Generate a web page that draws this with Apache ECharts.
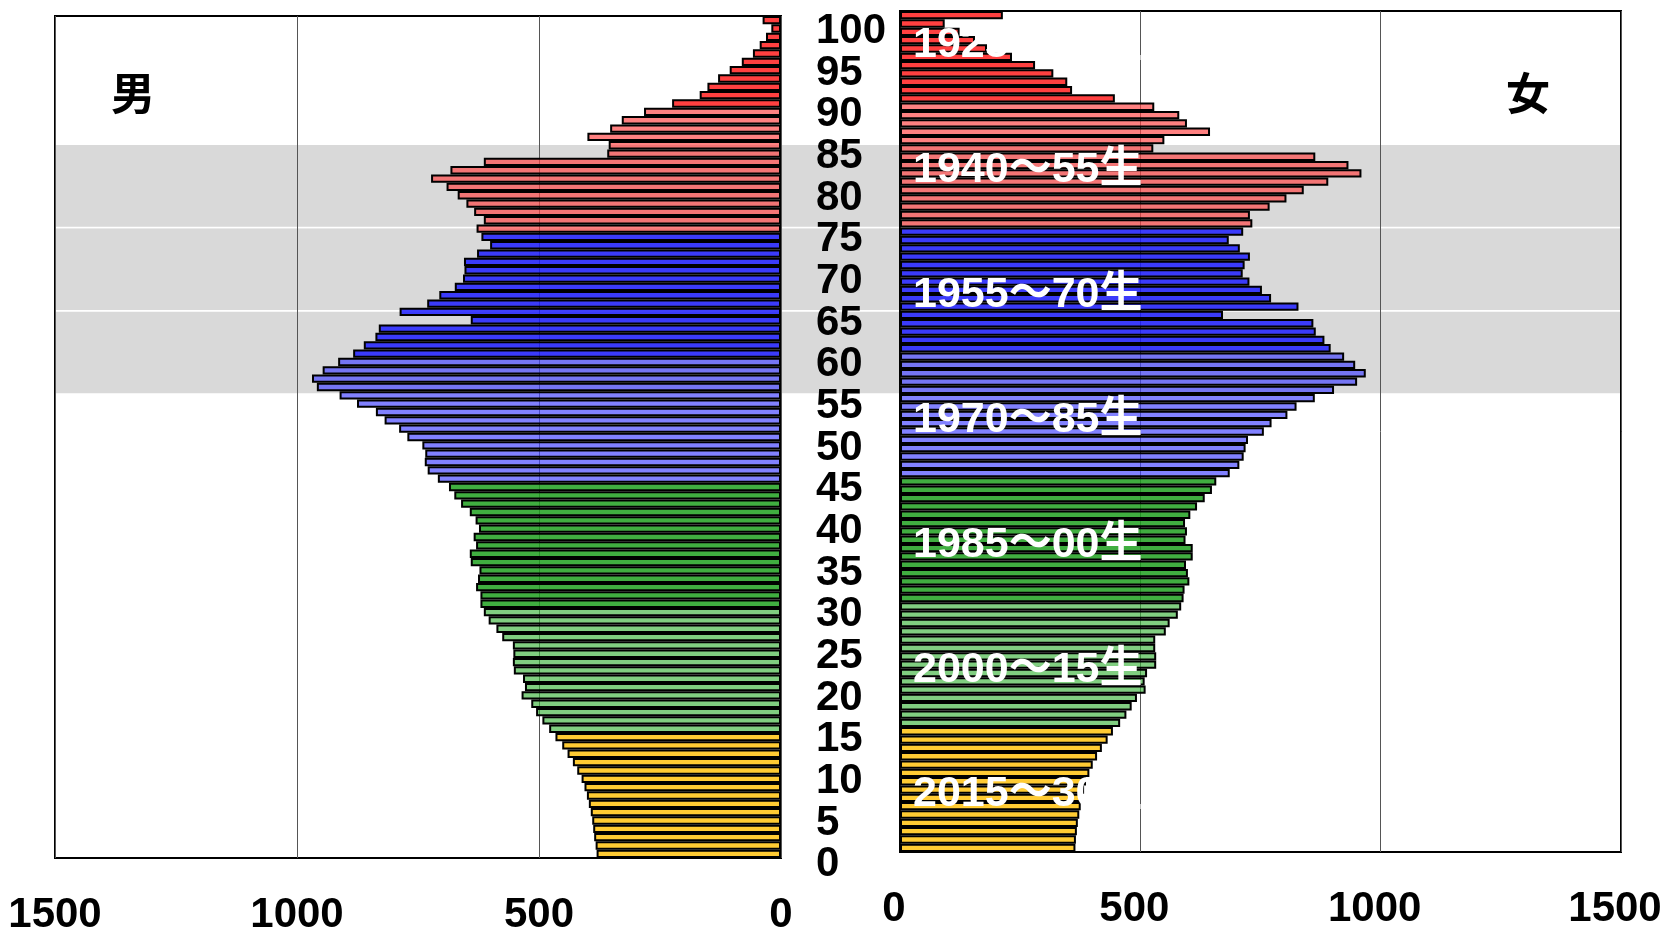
<!DOCTYPE html>
<html>
<head>
<meta charset="utf-8">
<script src="https://cdn.jsdelivr.net/npm/echarts@6/dist/echarts.min.js"></script>
<style>
html,body{margin:0;padding:0;background:#fff;}
#chart{width:1664px;height:932px;}
</style>
</head>
<body>
<div id="chart"></div>
<script>
// ---- data ----
const ages = Array.from({length: 101}, (_, i) => String(i));   // 0 .. 100(+)
const ageTickLabels = ['0','5','10','15','20','25','30','35','40','45','50','55','60','65','70','75','80','85','90','95','100'];
const maleValues = [
  381,383,386,388,390,393,397,401,406,412,
  421,430,441,452,466,479,493,506,516,536,
  529,533,552,554,553,554,576,588,604,614,
  621,621,630,626,623,641,643,630,635,624,
  631,643,661,675,686,709,730,736,735,741,
  772,789,819,837,876,912,959,969,947,915,
  884,862,838,831,641,788,731,706,674,657,
  654,655,628,601,619,629,614,634,650,668,
  691,723,683,614,359,356,400,353,329,283,
  225,168,152,130,106,81,58,44,31,20,
  38
];
const femaleValues = [
  365,366,368,370,373,376,378,383,387,394,
  401,410,420,432,443,458,471,482,493,511,
  509,514,533,533,531,531,553,561,578,585,
  590,592,602,599,595,609,609,594,597,593,
  604,618,634,649,658,686,706,715,719,724,
  757,773,806,825,863,903,951,969,947,924,
  896,883,865,860,672,829,772,753,727,713,
  717,728,707,684,714,733,728,769,804,840,
  891,960,933,864,527,550,645,597,581,529,
  447,358,348,319,281,233,181,156,124,93,
  214
];
const genLabels   = ['2015～30生','2000～15生','1985～00生','1970～85生','1955～70生','1940～55生','1925～40生'];
const genFirstAge = [0, 15, 30, 45, 60, 75, 90];
const genColors   = ['rgba(255,190,0,0.8)','rgba(60,180,60,0.65)','rgba(30,160,30,0.85)',
                     'rgba(70,70,255,0.68)','rgba(30,30,255,0.85)','rgba(255,70,70,0.68)','rgba(255,30,30,0.85)'];
const bandRanges  = [[55, 64], [65, 74], [75, 84]];
const xTicks      = [0, 500, 1000, 1500];

// ---- helpers ----
function genOf(age) {
  let g = 0;
  for (let i = 0; i < genFirstAge.length; i++) if (age >= genFirstAge[i]) g = i;
  return g;
}
function barData(vals) {
  return vals.map((v, i) => ({ value: v, itemStyle: { color: genColors[genOf(i)] } }));
}

const numFont = "'Liberation Sans',Arial,sans-serif";
const labFont = "'Liberation Sans','Noto Sans CJK JP',sans-serif";
const plain = v => String(v);

const chart = echarts.init(document.getElementById('chart'), null, {renderer: 'canvas'});

const option = {
  animation: false,
  backgroundColor: '#fff',
  grid: [
    {left: 55, right: 883, top: 16, bottom: 74, show: true, borderColor: '#000', borderWidth: 2,
     backgroundColor: 'transparent', z: 1, outerBoundsMode: 'none', containLabel: false},
    {left: 900, right: 43, top: 11, bottom: 80, show: true, borderColor: '#000', borderWidth: 2,
     backgroundColor: 'transparent', z: 1, outerBoundsMode: 'none', containLabel: false},
    {left: 55, right: 43, top: 11, bottom: 80, show: false, outerBoundsMode: 'none'},
    {left: 806, width: 10, top: 31.3, bottom: 67.4, show: false, outerBoundsMode: 'none'}
  ],
  xAxis: [
    {gridIndex: 0, type: 'value', inverse: true, min: xTicks[0], max: xTicks[xTicks.length-1], interval: 500, z: 1,
     axisLine: {show: false}, axisTick: {show: false},
     splitLine: {show: true, lineStyle: {color: '#555', width: 1}},
     axisLabel: {margin: 57, verticalAlign: 'middle', fontSize: 42, fontWeight: 'bold', color: '#000',
                 fontFamily: numFont, formatter: plain, showMinLabel: true, showMaxLabel: true}},
    {gridIndex: 1, type: 'value', min: xTicks[0], max: xTicks[xTicks.length-1], interval: 500, z: 1,
     axisLine: {show: false}, axisTick: {show: false},
     splitLine: {show: true, lineStyle: {color: '#555', width: 1}},
     axisLabel: {margin: 57, verticalAlign: 'middle', fontSize: 42, fontWeight: 'bold', color: '#000',
                 fontFamily: numFont, formatter: plain, padding: [0, 12, 0, 0], showMinLabel: true, showMaxLabel: true}},
    {gridIndex: 2, type: 'value', min: 0, max: 1, show: false},
    {gridIndex: 3, type: 'value', min: 0, max: 1, show: false}
  ],
  yAxis: [
    {gridIndex: 0, type: 'category', data: ages, show: false},
    {gridIndex: 1, type: 'category', data: ages, show: false},
    {gridIndex: 2, type: 'value', min: -0.5, max: 100.5, show: false},
    {gridIndex: 3, type: 'category', data: ageTickLabels, boundaryGap: false, position: 'right', z: 5,
     axisLine: {show: false}, axisTick: {show: false}, splitLine: {show: false},
     axisLabel: {interval: 0, margin: 0, fontSize: 42, fontWeight: 'bold', color: '#000', fontFamily: numFont,
                 align: 'left', verticalAlign: 'middle'}},
    {gridIndex: 1, type: 'value', min: -0.5, max: 100.5, show: false, position: 'right'}
  ],
  series: [
    {
      type: 'line', xAxisIndex: 2, yAxisIndex: 2, z: 0, silent: true,
      data: [], symbol: 'none',
      markArea: {
        silent: true, z: -5,
        itemStyle: {color: '#d9d9d9', borderColor: '#fff', borderWidth: 1.5},
        data: bandRanges.map(r => [{yAxis: r[0] - 0.5}, {yAxis: r[1] + 0.5}])
      }
    },
    {
      name: '男', type: 'bar', xAxisIndex: 0, yAxisIndex: 0, z: 3,
      barCategoryGap: '0%', data: barData(maleValues),
      itemStyle: {borderColor: '#000', borderWidth: 2}
    },
    {
      name: '女', type: 'bar', xAxisIndex: 1, yAxisIndex: 1, z: 3,
      barCategoryGap: '0%', data: barData(femaleValues),
      itemStyle: {borderColor: '#000', borderWidth: 2}
    },
    {
      type: 'scatter', xAxisIndex: 1, yAxisIndex: 4, z: 6, silent: true,
      symbolSize: 0, itemStyle: {opacity: 1},
      data: genLabels.map((t, i) => ({value: [0, genFirstAge[i] + 6.4], name: t})),
      label: {show: true, position: 'right', distance: 13, formatter: p => p.name, opacity: 1,
              color: '#fff', fontSize: 43, fontWeight: 'bold', fontFamily: labFont, verticalAlign: 'middle'}
    }
  ],
  graphic: [
    {type: 'text', x: 133, y: 93, z: 10, style: {text: '男', font: "bold 44px 'Noto Sans CJK JP'", fill: '#000', textAlign: 'center', textVerticalAlign: 'middle'}},
    {type: 'text', x: 1528, y: 93, z: 10, style: {text: '女', font: "bold 44px 'Noto Sans CJK JP'", fill: '#000', textAlign: 'center', textVerticalAlign: 'middle'}}
  ]
};
chart.setOption(option);
</script>
</body>
</html>
